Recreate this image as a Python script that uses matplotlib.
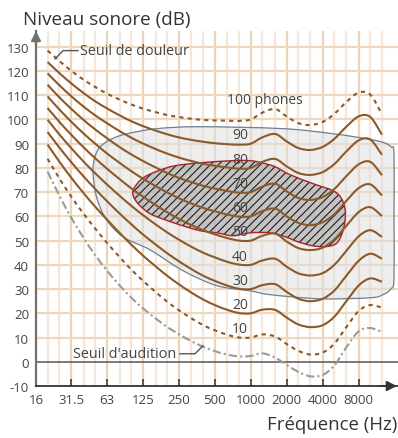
import numpy as np
import matplotlib
matplotlib.use('Agg')
import matplotlib.pyplot as plt
from matplotlib.patches import PathPatch
from matplotlib.path import Path
from matplotlib.ticker import NullLocator

plt.rcParams['font.family'] = ['Open Sans', 'DejaVu Sans']
plt.rcParams['hatch.linewidth'] = 0.8

freqs = [20, 25, 31.5, 40, 50, 63, 80, 100, 125, 160, 200, 250, 315, 400, 500, 630,
         800, 1000, 1250, 1600, 2000, 2500, 3150, 4000, 5000, 6300, 8000, 10000, 12500]
threshold = [78.5, 68.7, 59.5, 51.1, 44.0, 37.5, 31.5, 26.5, 22.1, 17.9, 14.4, 11.4, 8.6,
             6.2, 4.4, 3.0, 2.2, 2.4, 3.5, 1.7, -1.3, -4.2, -6.0, -5.4, -1.5, 6.0, 12.6, 13.9, 12.3]
p10 = [83.8, 75.8, 68.2, 61.1, 55.0, 49.0, 43.2, 38.1, 33.5, 28.8, 24.8, 21.3, 18.1, 15.1, 13.0,
       11.2, 10.0, 10.0, 11.3, 10.4, 7.3, 4.5, 3.0, 3.8, 7.5, 14.3, 21.0, 23.4, 22.3]
p20 = [89.6, 82.7, 76.0, 69.6, 64.0, 58.6, 53.2, 48.4, 43.9, 39.4, 35.5, 32.0, 28.7, 25.7, 23.4,
       21.5, 20.1, 20.0, 21.5, 21.4, 18.2, 15.4, 14.3, 15.1, 18.6, 25.0, 31.5, 34.4, 33.0]
p30 = [94.8, 88.5, 82.4, 76.5, 71.3, 66.2, 61.2, 56.8, 52.6, 48.4, 44.8, 41.5, 38.4, 35.5, 33.4,
       31.5, 30.1, 30.0, 31.6, 32.0, 28.8, 26.0, 25.0, 26.0, 29.4, 35.5, 41.7, 44.6, 42.5]
p40 = [99.9, 93.9, 88.2, 82.6, 77.8, 73.1, 68.5, 64.4, 60.6, 56.7, 53.4, 50.4, 47.6, 45.0, 43.1,
       41.3, 40.1, 40.0, 41.8, 42.5, 39.2, 36.5, 35.6, 36.6, 40.0, 45.8, 51.8, 54.3, 51.5]
p50 = [104.7, 99.1, 93.7, 88.5, 84.0, 79.6, 75.4, 71.6, 68.2, 64.7, 61.7, 59.0, 56.5, 54.3, 52.6,
       51.1, 50.0, 50.0, 52.0, 52.9, 49.6, 46.9, 46.1, 47.1, 50.5, 56.1, 61.8, 63.8, 60.1]
p60 = [109.5, 104.2, 99.1, 94.2, 90.0, 85.9, 82.1, 78.7, 75.6, 72.5, 69.9, 67.5, 65.4, 63.5, 62.1,
       60.8, 59.9, 60.0, 62.2, 63.2, 60.0, 57.3, 56.4, 57.6, 60.9, 66.4, 71.7, 73.2, 68.6]
p70 = [114.3, 109.2, 104.4, 99.8, 95.9, 92.2, 88.6, 85.6, 82.9, 80.2, 77.9, 75.9, 74.2, 72.6, 71.5,
       70.5, 69.8, 70.0, 72.3, 73.5, 70.3, 67.6, 66.8, 68.0, 71.3, 76.6, 81.5, 82.5, 77.0]
p80 = [119.0, 114.2, 109.6, 105.3, 101.7, 98.4, 95.2, 92.5, 90.1, 87.8, 85.9, 84.3, 82.9, 81.7, 80.9,
       80.2, 79.7, 80.0, 82.5, 83.7, 80.6, 77.9, 77.1, 78.3, 81.6, 86.8, 91.4, 91.7, 85.4]
p90 = [123.7, 119.2, 114.9, 110.9, 107.5, 104.5, 101.7, 99.3, 97.3, 95.4, 93.9, 92.6, 91.6, 90.8, 90.2,
       89.8, 89.6, 90.0, 92.6, 94.0, 90.9, 88.2, 87.4, 88.7, 92.0, 97.0, 101.3, 101.0, 93.7]
p100 = [128.4, 124.2, 120.1, 116.4, 113.4, 110.6, 108.2, 106.2, 104.5, 103.0, 101.8, 101.0, 100.3, 99.8,
        99.6, 99.5, 99.4, 100.0, 102.8, 104.3, 101.2, 98.5, 97.7, 99.0, 102.3, 107.2, 111.1, 110.2, 102.1]

contours = [p10, p20, p30, p40, p50, p60, p70, p80, p90, p100]
contour_labels = ['10', '20', '30', '40', '50', '60', '70', '80', '90', '100 phones']
contour_phon = [10, 20, 30, 40, 50, 60, 70, 80, 90, 100]

zone_freq = [47.9, 48.9, 51.8, 58.1, 69.1, 90.5, 143.7, 271, 522, 985, 1448, 3748, 9935, 12757,
             14880, 15760, 15760, 15760, 14880, 13004, 9375, 4871, 1861, 376, 164.4, 92.3, 69.1, 54.9, 49.8]
zone_db = [79.7, 73.5, 67.3, 61.1, 55.7, 50.8, 46.2, 37.6, 31.4, 29.3, 27.7, 26.0, 26.4, 27.7,
           30.1, 34.3, 60.0, 85.8, 88.7, 90.4, 92.0, 94.1, 96.2, 97.0, 96.2, 94.1, 92.0, 88.7, 84.6]
hatch_freq = [103.5, 114, 130.5, 167.6, 232.5, 376, 710, 985, 1241, 1595, 2128, 3316, 4870, 5680,
              6138, 6138, 5793, 5160, 4176, 3251, 2483, 1933, 1448, 985, 710, 522, 376, 271, 191.7,
              143.7, 118.5, 105.6]
hatch_db = [70.6, 73.9, 76.4, 78.8, 80.9, 82.1, 83.0, 83.0, 82.1, 80.5, 77.2, 73.5, 70.6, 67.7,
            63.1, 58.2, 52.8, 48.7, 47.5, 47.9, 49.5, 51.6, 53.2, 53.2, 52.0, 53.2, 54.1, 56.1, 58.6,
            61.1, 64.4, 67.7]

tick_freqs = [16, 31.5, 63, 125, 250, 500, 1000, 2000, 4000, 8000]
tick_labels = ['16', '31.5', '63', '125', '250', '500', '1000', '2000', '4000', '8000']
y_ticks = list(range(-10, 131, 10))

BROWN = '#8b5a2b'
GREY_TXT = '#444444'


def smooth_path(xs, ys, closed=False):
    lx = list(np.log2(xs)); y = list(ys)
    n = len(lx)
    def pt(i):
        if closed:
            return lx[i % n], y[i % n]
        i = min(max(i, 0), n - 1)
        return lx[i], y[i]
    verts = [(2 ** lx[0], y[0])]
    codes = [Path.MOVETO]
    segs = n if closed else n - 1
    for i in range(segs):
        x0, y0 = pt(i - 1); x1, y1 = pt(i); x2, y2 = pt(i + 1); x3, y3 = pt(i + 2)
        c1 = (x1 + (x2 - x0) / 6, y1 + (y2 - y0) / 6)
        c2 = (x2 - (x3 - x1) / 6, y2 - (y3 - y1) / 6)
        verts += [(2 ** c1[0], c1[1]), (2 ** c2[0], c2[1]), (2 ** x2, y2)]
        codes += [Path.CURVE4] * 3
    if closed:
        verts.append((0, 0)); codes.append(Path.CLOSEPOLY)
    return Path(verts, codes)


fig = plt.figure(figsize=(3.98, 4.39), dpi=100)
ax = fig.add_axes([36/398, 52/439, 362/398, 355/439])
ax.set_xscale('log', base=2)
ax.set_xlim(16, 16 * 2 ** (362/36))
ax.set_ylim(-10, 136.5)

# grid
for v in range(10, 131, 10):
    ax.axhline(v, color='#eed8c0', lw=1.6, zorder=0.5)
octave = set(tick_freqs)
for f in freqs:
    ax.axvline(f, color='#ecd4ba' if f in octave else '#f5e7d9', lw=1.6, zorder=0.4)
ax.axhline(0, color='#555555', lw=1.1, zorder=1)

# zones
zone_path = smooth_path(zone_freq, zone_db, closed=True)
hatch_path = smooth_path(hatch_freq, hatch_db, closed=True)
ax.add_patch(PathPatch(zone_path, facecolor='#dedede', alpha=0.5, edgecolor='none', zorder=1.2))
ax.add_patch(PathPatch(zone_path, facecolor='none', edgecolor='#6d7f91', lw=0.9, zorder=1.3))
ax.add_patch(PathPatch(hatch_path, facecolor='#a8a8a8', alpha=0.6, edgecolor='none', zorder=1.4))
ax.add_patch(PathPatch(hatch_path, facecolor='none', edgecolor='#1e1e1e', lw=0, hatch='////',
                       zorder=1.45))
ax.add_patch(PathPatch(hatch_path, facecolor='none', edgecolor='#a8222c', lw=1.0, zorder=1.5))

# contours
for phon, vals in zip(contour_phon, contours):
    ls = (0, (2, 2)) if phon in (10, 100) else '-'
    ax.add_patch(PathPatch(smooth_path(freqs, vals), facecolor='none', edgecolor=BROWN,
                           lw=1.5, ls=ls, zorder=3, capstyle='butt'))
ax.add_patch(PathPatch(smooth_path(freqs, threshold), facecolor='none', edgecolor='#9a9a9a',
                       lw=1.5, ls=(0, (4, 1.5, 1, 1.5)), zorder=2.9))

# contour labels
for phon, lab in zip(contour_phon, contour_labels):
    if phon == 100:
        ax.text(1302, 108.1, lab, ha='center', va='center', fontsize=10, color=GREY_TXT, zorder=4)
    else:
        ax.text(812, phon + 3.6, lab, ha='center', va='center', fontsize=10, color=GREY_TXT, zorder=4)

# annotations
ax.plot([23.1, 26.9, 35.9], [125.0, 128.4, 128.4], color='#555555', lw=1.0, zorder=4)
ax.text(37.3, 128.4, 'Seuil de douleur', ha='left', va='center', fontsize=10.4, color=GREY_TXT, zorder=4)
ax.plot([256, 341.7, 398.6], [3.3, 3.3, 6.6], color='#555555', lw=1.0, zorder=4)
ax.text(237, 3.5, "Seuil d'audition", ha='right', va='center', fontsize=10.4, color=GREY_TXT, zorder=4)

# axes
for s in ('top', 'right'):
    ax.spines[s].set_visible(False)
ax.spines['left'].set_color('#707070')
ax.spines['left'].set_linewidth(1.6)
ax.spines['bottom'].set_color('#333333')
ax.spines['bottom'].set_linewidth(1.3)
ax.spines['left'].set_zorder(5)
ax.spines['bottom'].set_zorder(5)
ax.annotate('', xy=(0, 1), xycoords='axes fraction', xytext=(0, 0.96),
            arrowprops=dict(arrowstyle='-|>,head_length=0.55,head_width=0.28', color='#707070',
                            lw=1.6, shrinkA=0, shrinkB=0), zorder=6)
ax.annotate('', xy=(0.997, 0), xycoords='axes fraction', xytext=(0.95, 0),
            arrowprops=dict(arrowstyle='-|>,head_length=0.6,head_width=0.3', color='#333333',
                            lw=1.3, shrinkA=0, shrinkB=0), zorder=6)

ax.set_xticks(tick_freqs)
ax.set_xticklabels(tick_labels)
ax.xaxis.set_minor_locator(NullLocator())
ax.tick_params(axis='x', direction='in', length=5, width=1.1, color='#333333', pad=5,
               labelsize=9.5, labelcolor=GREY_TXT)
ax.set_yticks(y_ticks)
ax.set_yticklabels([str(v) for v in y_ticks])
ax.tick_params(axis='y', length=0, pad=5, labelsize=9.5, labelcolor=GREY_TXT)

fig.text(23/398, 1 - 25/439, 'Niveau sonore (dB)', ha='left', va='baseline', fontsize=13.6, color='#333333')
fig.text(397/398, 9/439, 'Fréquence (Hz)', ha='right', va='baseline', fontsize=13.4, color='#333333')

fig.savefig('out.png', dpi=100)
